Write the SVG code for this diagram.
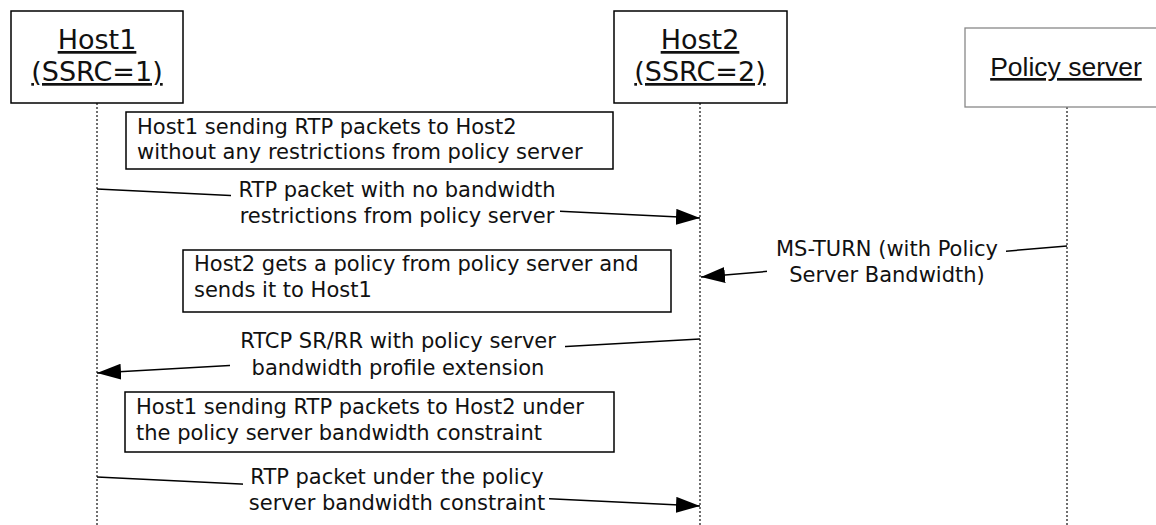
<svg xmlns="http://www.w3.org/2000/svg" width="1156" height="525" viewBox="0 0 1156 525">
<style>
.t{font-family:"DejaVu Sans",Verdana,sans-serif;font-size:21px;fill:#111}
.h{font-family:"DejaVu Sans",Verdana,sans-serif;font-size:27px;fill:#111;text-anchor:middle;text-decoration:underline}
.ps{font-family:"Liberation Sans",Arial,sans-serif;font-size:26.5px;fill:#111;text-anchor:middle;text-decoration:underline}
.box{fill:#fff;stroke:#000;stroke-width:1.5}
.gbox{fill:#fff;stroke:#888;stroke-width:1.3}
.life{stroke:#222;stroke-width:1.3;stroke-dasharray:2,2;fill:none}
.msg{stroke:#000;stroke-width:1.5;fill:none;marker-end:url(#ah)}
.bg{fill:#fff;stroke:none}
.c{text-anchor:middle}
</style>
<defs>
<marker id="ah" markerUnits="userSpaceOnUse" markerWidth="26" markerHeight="18" refX="24" refY="8" orient="auto">
<path d="M0,0 L24,8 L0,16 z" fill="#000"/>
</marker>
</defs>
<rect width="1156" height="525" fill="#fff"/>
<g id="lifelines">
<line class="life" x1="97" y1="103" x2="97" y2="525"/>
<line class="life" x1="700" y1="103" x2="700" y2="525"/>
<line class="life" x1="1067" y1="107" x2="1067" y2="525"/>
</g>
<g id="host1">
<rect class="box" x="11" y="11" width="172" height="92"/>
<text class="h" x="97" y="49">Host1</text>
<text class="h" x="97" y="81">(SSRC=1)</text>
</g>
<g id="host2">
<rect class="box" x="614" y="11" width="173" height="92"/>
<text class="h" x="700" y="49">Host2</text>
<text class="h" x="700" y="81">(SSRC=2)</text>
</g>
<g id="policy-server">
<rect class="gbox" x="965" y="28" width="200" height="79"/>
<text class="ps" x="1066" y="76">Policy server</text>
</g>
<g id="note1">
<rect class="box" x="126" y="112" width="487" height="57"/>
<text class="t" x="137" y="134">Host1 sending RTP packets to Host2</text>
<text class="t" x="137" y="159">without any restrictions from policy server</text>
</g>
<g id="note2">
<rect class="box" x="183" y="250" width="488" height="62"/>
<text class="t" x="194" y="271">Host2 gets a policy from policy server and</text>
<text class="t" x="194" y="297">sends it to Host1</text>
</g>
<g id="note3">
<rect class="box" x="125" y="392" width="489" height="60"/>
<text class="t" x="136" y="414">Host1 sending RTP packets to Host2 under</text>
<text class="t" x="136" y="440">the policy server bandwidth constraint</text>
</g>
<g id="connectors">
<line class="msg" x1="97" y1="189" x2="700" y2="218"/>
<line class="msg" x1="1067" y1="246" x2="701" y2="277"/>
<line class="msg" x1="700" y1="339" x2="97" y2="373"/>
<line class="msg" x1="97" y1="477" x2="700" y2="506"/>
</g>
<g id="labels">
<rect class="bg" x="231" y="180" width="329" height="50"/>
<text class="t c" x="397" y="197">RTP packet with no bandwidth</text>
<text class="t c" x="397" y="223">restrictions from policy server</text>
<rect class="bg" x="767" y="237" width="239" height="53"/>
<text class="t c" x="887" y="256">MS-TURN (with Policy</text>
<text class="t c" x="887" y="282">Server Bandwidth)</text>
<rect class="bg" x="230" y="330" width="335" height="53"/>
<text class="t c" x="398" y="348">RTCP SR/RR with policy server</text>
<text class="t c" x="398" y="375">bandwidth profile extension</text>
<rect class="bg" x="243" y="467" width="306" height="51"/>
<text class="t c" x="397" y="484">RTP packet under the policy</text>
<text class="t c" x="397" y="510">server bandwidth constraint</text>
</g>
</svg>
